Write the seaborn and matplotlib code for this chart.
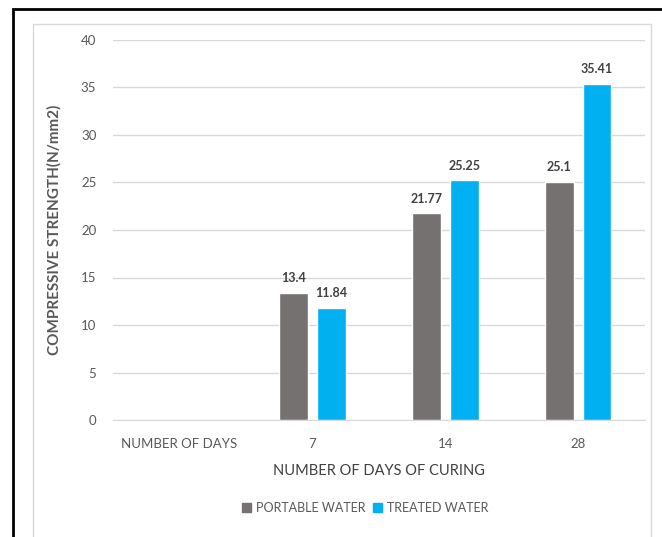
import numpy as np
import pandas as pd
import matplotlib
matplotlib.use("Agg")
import matplotlib.pyplot as plt
from matplotlib.patches import Rectangle
import seaborn as sns

days = ["NUMBER OF DAYS", "7", "14", "28"]
portable = [np.nan, 13.4, 21.77, 25.1]
treated = [np.nan, 11.84, 25.25, 35.41]
series = ["PORTABLE WATER", "TREATED WATER"]
colors = ["#767171", "#00B0F0"]

df = pd.DataFrame({
    "days": days * 2,
    "strength": portable + treated,
    "water": [series[0]] * len(days) + [series[1]] * len(days),
})

sns.set_style("white")
plt.rcParams["font.family"] = ["Lato", "DejaVu Sans"]

fig = plt.figure(figsize=(6.62, 5.37), dpi=100)
# outer black frame and inner light frame
fig.patches.append(Rectangle((13 / 662, -0.1), 1.0, 1 - 9 / 537 + 0.1, transform=fig.transFigure,
                             fill=False, edgecolor="black", linewidth=2, zorder=0))
fig.patches.append(Rectangle((33 / 662, -0.1), (651 - 33) / 662, 1 - 24 / 537 + 0.1, transform=fig.transFigure,
                             fill=False, edgecolor="#D9D9D9", linewidth=1, zorder=0))

ax = fig.add_axes([113 / 662, 117 / 537, 531.5 / 662, 380 / 537])
sns.barplot(data=df, x="days", y="strength", hue="water", order=days, hue_order=series,
            palette=colors, width=0.57, gap=0.24, ax=ax, legend=False, saturation=1)

ax.set_ylim(0, 40)
ax.set_yticks(range(0, 41, 5))
ax.yaxis.grid(True, color="#D9D9D9", linewidth=1)
ax.set_axisbelow(True)
for s in ["top", "right", "left"]:
    ax.spines[s].set_visible(False)
ax.spines["bottom"].set_color("#D9D9D9")
ax.tick_params(axis="both", length=0, colors="#595959", labelsize=9.5)
ax.tick_params(axis="y", pad=12)
ax.tick_params(axis="x", pad=13)

ax.set_ylabel("COMPRESSIVE STRENGTH(N/mm2)", fontsize=11, fontweight="bold", color="#595959", labelpad=14)
ax.set_xlabel("NUMBER OF DAYS OF CURING", fontsize=10.5, color="#404040", labelpad=10)

for cont in ax.containers:
    labels = ["" if np.isnan(v) else f"{v:g}" for v in cont.datavalues]
    ax.bar_label(cont, labels=labels, padding=6, fontsize=9, fontweight="bold", color="#404040")

handles = [Rectangle((0, 0), 1, 1, color=c) for c in colors]
fig.legend(handles, series, loc="center", bbox_to_anchor=(365 / 662, 1 - 508 / 537), ncol=2,
           frameon=False, fontsize=9, handlelength=0.7, handleheight=0.7, handletextpad=0.4,
           columnspacing=0.6, labelcolor="#595959")

fig.savefig("out.png", dpi=100, facecolor="white")
